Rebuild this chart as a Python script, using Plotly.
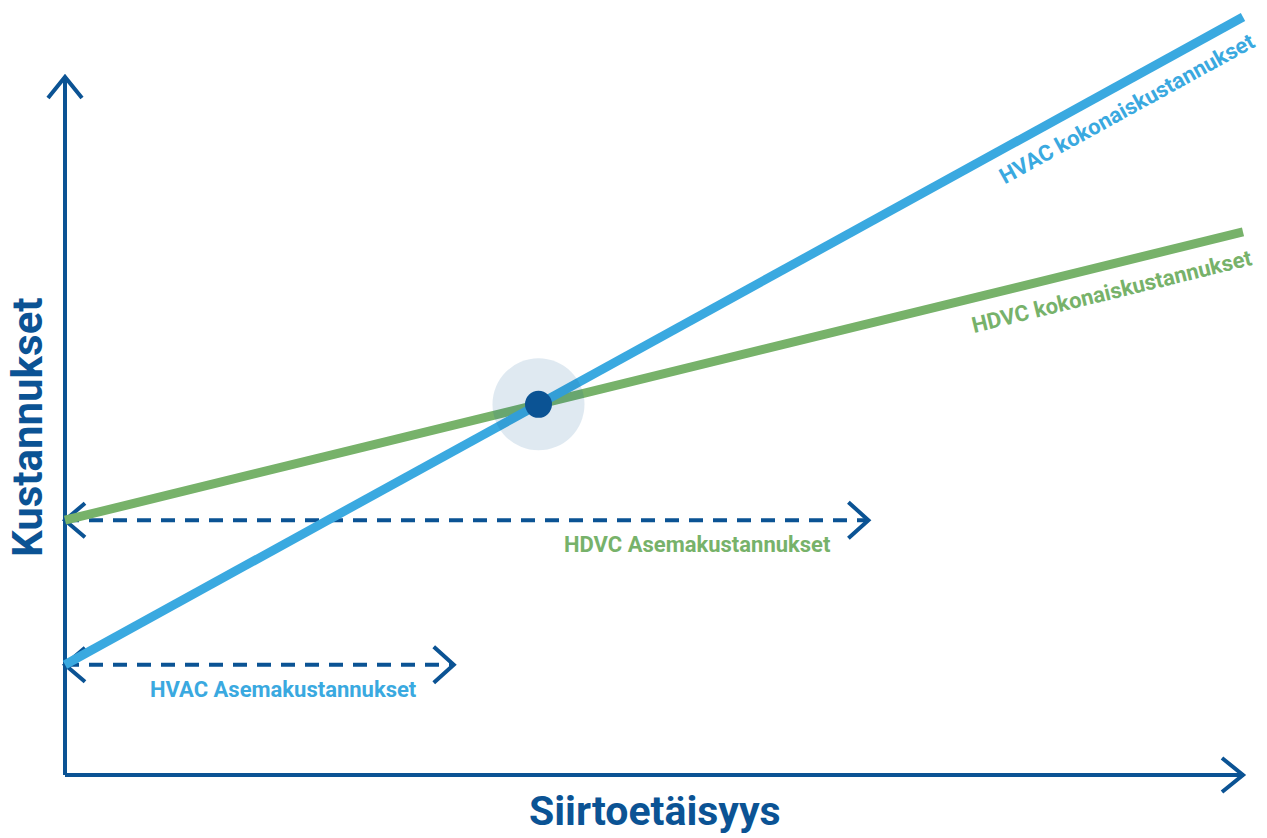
import math
import plotly.graph_objects as go

# ---- data (conceptual units) ----
distance = [0, 100]                 # transmission distance
hvac_total = [15.8, 108.6]          # HVAC total cost at start / end
hdvc_total = [36.5, 77.8]           # HDVC total cost at start / end
station_labels = ["HVAC Asemakustannukset", "HDVC Asemakustannukset"]
station_cost = [15.8, 36.5]         # station cost levels
station_span = [33, 68.2]           # length of the station-cost arrows
axis_max = [100, 100]               # x, y axis arrow tips

# ---- styling / scale ----
W, H = 1267, 838
OX, OY = 65, 775          # pixel origin
KX, KY = 11.78, 6.98      # pixels per unit
DARK = "#0b5394"
LBLUE = "#3aa9e0"
GREEN = "#77b26a"
FONT = "Roboto"

xr = [-OX / KX, (W - OX) / KX]
yr = [(OY - H) / KY, OY / KY]

def chevron(tx, ty, direction, a=20, b=19):
    if direction == "right":
        pts = [(-a, b), (0, 0), (-a, -b)]
    elif direction == "left":
        pts = [(a, b), (0, 0), (a, -b)]
    else:  # up
        pts = [(-b, -a), (0, 0), (b, -a)]
    xs = [tx + p[0] / KX for p in pts]
    ys = [ty + p[1] / KY for p in pts]
    return xs, ys

fig = go.Figure()

# axes
fig.add_trace(go.Scatter(x=[0, 0], y=[0, axis_max[1]], mode="lines",
                         line=dict(color=DARK, width=4), hoverinfo="skip"))
fig.add_trace(go.Scatter(x=[0, axis_max[0]], y=[0, 0], mode="lines",
                         line=dict(color=DARK, width=4), hoverinfo="skip"))
cx, cy = chevron(0, axis_max[1], "up", a=21, b=17)
fig.add_trace(go.Scatter(x=cx, y=cy, mode="lines", line=dict(color=DARK, width=4), hoverinfo="skip"))
cx, cy = chevron(axis_max[0], 0, "right", a=21, b=17)
fig.add_trace(go.Scatter(x=cx, y=cy, mode="lines", line=dict(color=DARK, width=4), hoverinfo="skip"))

# station cost dashed arrows
for cost, span in zip(station_cost, station_span):
    fig.add_trace(go.Scatter(x=[0, span], y=[cost, cost], mode="lines",
                             line=dict(color=DARK, width=4, dash="14px,10px"), hoverinfo="skip"))
    cx, cy = chevron(0, cost, "left", a=20, b=17)
    fig.add_trace(go.Scatter(x=cx, y=cy, mode="lines", line=dict(color=DARK, width=4), hoverinfo="skip"))
    cx, cy = chevron(span, cost, "right", a=20, b=18)
    fig.add_trace(go.Scatter(x=cx, y=cy, mode="lines", line=dict(color=DARK, width=4), hoverinfo="skip"))

# total cost lines
fig.add_trace(go.Scatter(x=distance, y=hdvc_total, mode="lines",
                         line=dict(color=GREEN, width=9), hoverinfo="skip"))
fig.add_trace(go.Scatter(x=distance, y=hvac_total, mode="lines",
                         line=dict(color=LBLUE, width=9), hoverinfo="skip"))

# crossover point
s_hvac = (hvac_total[1] - hvac_total[0]) / (distance[1] - distance[0])
s_hdvc = (hdvc_total[1] - hdvc_total[0]) / (distance[1] - distance[0])
xc = (hdvc_total[0] - hvac_total[0]) / (s_hvac - s_hdvc)
yc = hvac_total[0] + s_hvac * xc
fig.add_trace(go.Scatter(x=[xc], y=[yc], mode="markers",
                         marker=dict(size=92, color="rgba(11,83,148,0.13)"), hoverinfo="skip"))
fig.add_trace(go.Scatter(x=[xc], y=[yc], mode="markers",
                         marker=dict(size=27, color=DARK), hoverinfo="skip"))

def px2x(p): return (p - OX) / KX
def px2y(p): return (OY - p) / KY

ang_hvac = -math.degrees(math.atan(s_hvac * KY / KX))
ang_hdvc = -math.degrees(math.atan(s_hdvc * KY / KX))

ann = [
    dict(x=px2x(1127), y=px2y(108), text="HVAC kokonaiskustannukset", textangle=ang_hvac,
         font=dict(color=LBLUE, size=22, family=FONT, weight="bold")),
    dict(x=px2x(1112), y=px2y(291), text="HDVC kokonaiskustannukset", textangle=ang_hdvc,
         font=dict(color=GREEN, size=22, family=FONT, weight="bold")),
    dict(x=px2x(697), y=px2y(544), text=station_labels[1],
         font=dict(color=GREEN, size=22, family=FONT, weight="bold")),
    dict(x=px2x(283), y=px2y(689), text=station_labels[0],
         font=dict(color=LBLUE, size=22, family=FONT, weight="bold")),
    dict(x=px2x(655), y=px2y(811), text="Siirtoetäisyys", borderpad=0,
         font=dict(color=DARK, size=41, family=FONT, weight="bold")),
    dict(x=px2x(27), y=px2y(427), text="Kustannukset", textangle=-90,
         font=dict(color=DARK, size=42, family=FONT, weight="bold")),
]
for a in ann:
    a.update(xref="x", yref="y", showarrow=False, xanchor="center", yanchor="middle")

fig.update_layout(
    width=W, height=H, margin=dict(l=0, r=0, t=0, b=0),
    paper_bgcolor="white", plot_bgcolor="white", showlegend=False,
    xaxis=dict(range=xr, visible=False, fixedrange=True),
    yaxis=dict(range=yr, visible=False, fixedrange=True),
    annotations=ann,
)
fig.write_html("out.html", config={"displayModeBar": False})
